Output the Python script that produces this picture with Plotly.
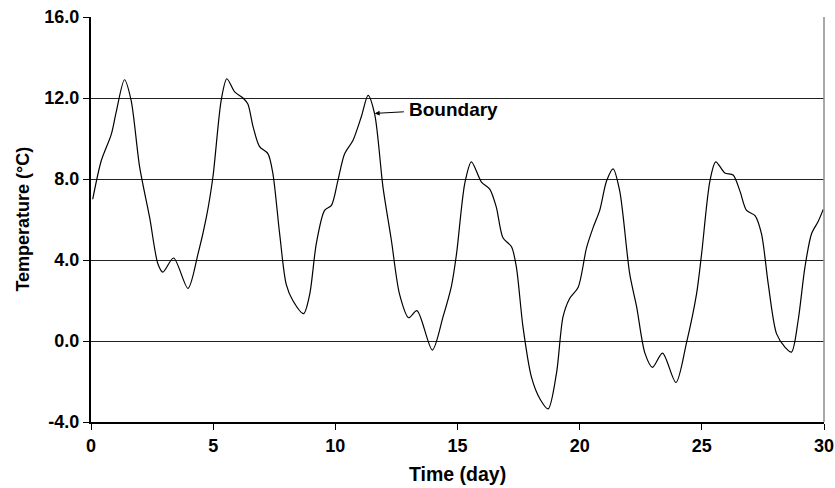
import plotly.graph_objects as go

day = [0.07, 0.42, 0.83, 1.03, 1.37, 1.64, 1.99, 2.40, 2.74, 2.94, 3.38, 3.97, 4.38, 4.72, 4.99,
       5.33, 5.56, 5.88, 6.22, 6.42, 6.63, 6.90, 7.24, 7.44, 7.72, 7.99, 8.26, 8.70, 8.95, 9.22,
       9.56, 9.84, 10.10, 10.38, 10.72, 11.06, 11.34, 11.61, 11.95, 12.29, 12.63, 13.00, 13.34,
       13.97, 14.41, 14.75, 14.96, 15.30, 15.57, 15.98, 16.32, 16.59, 16.86, 17.21, 17.41, 17.68,
       18.03, 18.37, 18.71, 19.05, 19.32, 19.59, 19.94, 20.28, 20.55, 20.82, 21.10, 21.37, 21.64,
       22.05, 22.33, 22.67, 22.98, 23.39, 23.94, 24.37, 24.78, 24.99, 25.33, 25.57, 25.94, 26.28,
       26.56, 26.83, 27.17, 27.44, 27.72, 28.06, 28.40, 28.67, 28.94, 29.22, 29.49, 29.76, 29.97]
temp = [7.0, 8.9, 10.2, 11.3, 12.9, 11.9, 8.6, 6.1, 3.8, 3.4, 4.1, 2.6, 4.3, 6.1, 8.1,
        11.9, 12.95, 12.3, 12.0, 11.7, 10.6, 9.6, 9.25, 8.3, 5.3, 2.8, 2.0, 1.35, 2.3, 4.8,
        6.45, 6.7, 7.9, 9.25, 9.9, 11.06, 12.13, 11.2, 7.6, 5.0, 2.3, 1.15, 1.5,
        -0.45, 1.2, 2.7, 4.3, 7.8, 8.85, 7.85, 7.5, 6.6, 5.1, 4.65, 3.65, 0.7,
        -1.8, -2.85, -3.35, -1.6, 1.2, 2.1, 2.66, 4.6, 5.6, 6.45, 7.9, 8.5, 7.4,
        3.3, 1.7, -0.6, -1.3, -0.6, -2.05, -0.1, 2.3, 4.3, 7.9, 8.85, 8.3, 8.2,
        7.4, 6.45, 6.2, 5.3, 2.8, 0.35, -0.3, -0.55, 1.0, 3.65, 5.3, 5.9, 6.5]

x_ticks = [0, 5, 10, 15, 20, 25, 30]
y_ticks = [-4.0, 0.0, 4.0, 8.0, 12.0, 16.0]

x_title = "Time (day)"
y_title = "Temperature (°C)"
annot_text = "Boundary"
annot_point = (11.61, 11.24)
annot_text_pos = (14.85, 11.45)

FONT = "Liberation Sans, Arial, Helvetica, sans-serif"

fig = go.Figure()
fig.add_trace(go.Scatter(
    x=day, y=temp, mode="lines",
    line=dict(color="black", width=1.2, shape="spline", smoothing=0.8),
    showlegend=False, hoverinfo="skip",
))

fig.add_annotation(
    x=annot_point[0], y=annot_point[1], xref="x", yref="y",
    ax=annot_text_pos[0], ay=annot_text_pos[1], axref="x", ayref="y",
    text="<b>%s</b>" % annot_text, showarrow=True,
    arrowhead=2, arrowsize=1, arrowwidth=1, arrowcolor="black",
    font=dict(family=FONT, size=19, color="black"),
    standoff=0, startstandoff=4,
)

# axis titles
fig.add_annotation(x=0.5, y=-0.128, xref="paper", yref="paper",
                   text="<b>%s</b>" % x_title, showarrow=False,
                   xanchor="center", yanchor="middle",
                   font=dict(family=FONT, size=19.5, color="black"))
fig.add_annotation(x=-0.094, y=0.5, xref="paper", yref="paper",
                   text="<b>%s</b>" % y_title, showarrow=False, textangle=-90,
                   xanchor="center", yanchor="middle",
                   font=dict(family=FONT, size=18, color="black"))

# right-hand plot border (gray)
fig.add_shape(type="line", xref="paper", yref="paper", x0=1, x1=1, y0=0, y1=1,
              line=dict(color="#8c8c8c", width=1.5))

fig.update_layout(
    width=835, height=488,
    margin=dict(l=91, r=11, t=17, b=66),
    paper_bgcolor="white", plot_bgcolor="white",
    font=dict(family=FONT, size=18, color="black"),
)
fig.update_xaxes(
    range=[0, 30], tickvals=x_ticks, ticktext=[f"<b>{v}</b>" for v in x_ticks],
    showgrid=False, zeroline=False, automargin=False,
    showline=True, linecolor="black", linewidth=2,
    ticks="outside", ticklen=6, tickcolor="black", tickwidth=1,
    tickfont=dict(size=18),
)
fig.update_yaxes(
    range=[-4, 16], tickvals=y_ticks, ticktext=[f"<b>{v:.1f}</b>" for v in y_ticks],
    showgrid=True, gridcolor="#222222", gridwidth=1, zeroline=False, automargin=False,
    showline=True, linecolor="black", linewidth=2,
    ticks="outside", ticklen=6, tickcolor="black", tickwidth=1,
    tickfont=dict(size=18),
)

fig.write_html("out.html")
